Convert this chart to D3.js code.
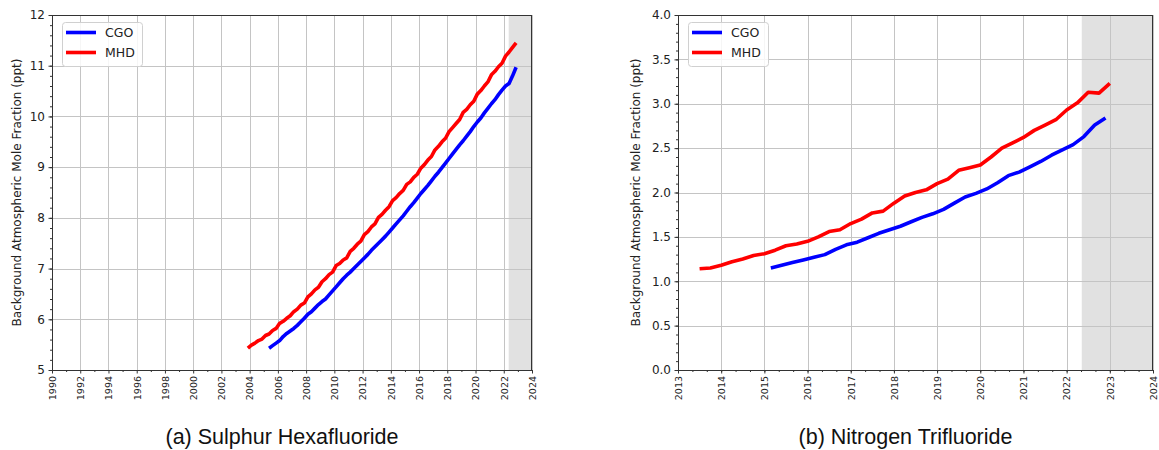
<!DOCTYPE html>
<html><head><meta charset="utf-8">
<script src="https://cdn.jsdelivr.net/npm/d3@7"></script>
<style>body{margin:0;background:#fff} svg{display:block}</style>
</head><body><svg id="c" width="1159" height="450"></svg>
<script>
// ---------- DATA ----------
const seriesNames = ["CGO", "MHD"];
const seriesColors = ["#0000ff", "#ff0000"];

// SF6 (ppt), quarterly values
const sf6MhdStart = 2003.875;
const sf6Mhd = [5.43,5.49,5.53,5.58,5.61,5.68,5.71,5.78,5.82,5.92,5.96,6.02,6.07,6.15,6.20,6.28,6.32,6.44,6.50,6.58,
  6.63,6.74,6.80,6.88,6.93,7.06,7.10,7.17,7.21,7.34,7.40,7.48,7.54,7.67,7.73,7.82,7.88,8.01,8.07,8.15,
  8.22,8.34,8.40,8.48,8.54,8.66,8.71,8.80,8.86,8.98,9.05,9.14,9.21,9.34,9.41,9.50,9.57,9.70,9.78,9.86,
  9.94,10.08,10.14,10.23,10.30,10.44,10.51,10.60,10.68,10.82,10.89,10.98,11.05,11.19,11.27,11.36,11.45];
const sf6CgoStart = 2005.375;
const sf6Cgo = [5.43,5.48,5.53,5.58,5.66,5.72,5.77,5.82,5.88,5.95,6.02,6.10,6.15,6.22,6.29,6.35,6.40,6.48,6.56,6.64,
  6.72,6.80,6.87,6.93,7.00,7.07,7.14,7.21,7.28,7.36,7.43,7.50,7.57,7.64,7.72,7.80,7.88,7.96,8.04,8.13,
  8.22,8.30,8.39,8.48,8.56,8.64,8.73,8.82,8.90,8.99,9.08,9.17,9.26,9.35,9.44,9.52,9.61,9.70,9.80,9.89,
  9.97,10.07,10.16,10.25,10.33,10.43,10.52,10.60,10.65,10.80,10.97];

// NF3 (ppt), quarterly values
const nf3MhdStart = 2013.5;
const nf3Mhd = [1.14,1.15,1.18,1.22,1.25,1.29,1.31,1.35,1.40,1.42,1.45,1.50,1.56,1.58,1.65,1.70,1.77,1.79,1.88,1.96,
  2.00,2.03,2.10,2.15,2.25,2.28,2.31,2.40,2.50,2.56,2.62,2.70,2.76,2.82,2.93,3.01,3.13,3.12,3.23];
const nf3CgoStart = 2015.15;
const nf3Cgo = [1.15,1.18,1.21,1.24,1.27,1.30,1.36,1.41,1.44,1.49,1.54,1.58,1.62,1.67,1.72,1.76,1.81,1.88,1.95,1.99,
  2.04,2.11,2.19,2.23,2.29,2.35,2.42,2.48,2.54,2.63,2.76,2.84];
const quarterStep = 0.25;

// shaded (provisional) period
const shadeStart = 2022.35, shadeEnd = 2024;

// tick labels
const sf6XTicks = [1990,1992,1994,1996,1998,2000,2002,2004,2006,2008,2010,2012,2014,2016,2018,2020,2022,2024];
const sf6YTicks = [5,6,7,8,9,10,11,12];
const sf6YLabels = ["5","6","7","8","9","10","11","12"];
const nf3XTicks = [2013,2014,2015,2016,2017,2018,2019,2020,2021,2022,2023,2024];
const nf3YTicks = [0,0.5,1,1.5,2,2.5,3,3.5,4];
const nf3YLabels = ["0.0","0.5","1.0","1.5","2.0","2.5","3.0","3.5","4.0"];

const yLabel = "Background Atmospheric Mole Fraction (ppt)";
const titles = ["(a) Sulphur Hexafluoride", "(b) Nitrogen Trifluoride"];

// ---------- DRAW ----------
const svg = d3.select("#c");
const toPoints = (start, vals) => vals.map((v, i) => [start + i * quarterStep, v]);

function panel(cfg) {
  const x = d3.scaleLinear().domain(cfg.xDomain).range([cfg.left, cfg.right]);
  const y = d3.scaleLinear().domain(cfg.yDomain).range([cfg.bottom, cfg.top]);
  const g = svg.append("g");

  // shading
  g.append("rect")
    .attr("x", x(shadeStart)).attr("y", cfg.top)
    .attr("width", x(shadeEnd) - x(shadeStart)).attr("height", cfg.bottom - cfg.top)
    .attr("fill", "#e1e1e1");

  // grid
  g.append("g").selectAll("line").data(cfg.xTicks).join("line")
    .attr("x1", d => Math.round(x(d)) + 0.5).attr("x2", d => Math.round(x(d)) + 0.5)
    .attr("y1", cfg.top).attr("y2", cfg.bottom)
    .attr("stroke", "#c4c4c4").attr("stroke-width", 1);
  g.append("g").selectAll("line").data(cfg.yTicks).join("line")
    .attr("y1", d => Math.round(y(d)) + 0.5).attr("y2", d => Math.round(y(d)) + 0.5)
    .attr("x1", cfg.left).attr("x2", cfg.right)
    .attr("stroke", "#c4c4c4").attr("stroke-width", 1);

  // series
  const line = d3.line().x(d => x(d[0])).y(d => y(d[1]));
  cfg.series.forEach((s, i) => {
    g.append("path").datum(s).attr("d", line)
      .attr("fill", "none").attr("stroke", seriesColors[i])
      .attr("stroke-width", 3.6).attr("stroke-linejoin", "round").attr("stroke-linecap", "butt");
  });

  // axes
  const axisColor = "#333";
  const xMajor = d3.axisBottom(x).tickValues(cfg.xTicks).tickSize(3.5).tickPadding(3).tickFormat(d3.format("d"));
  const xMin = d3.axisBottom(x).tickValues(cfg.xMinor).tickSize(2).tickFormat("");
  const yMajor = d3.axisLeft(y).tickValues(cfg.yTicks).tickSize(3.5).tickPadding(3.5).tickFormat((d, i) => cfg.yLabels[i]);
  const yMin = d3.axisLeft(y).tickValues(cfg.yMinor).tickSize(2).tickFormat("");

  const gx = g.append("g").attr("transform", `translate(0,${cfg.bottom})`).call(xMajor);
  g.append("g").attr("transform", `translate(0,${cfg.bottom})`).call(xMin).select(".domain").remove();
  const gy = g.append("g").attr("transform", `translate(${cfg.left},0)`).call(yMajor);
  g.append("g").attr("transform", `translate(${cfg.left},0)`).call(yMin).select(".domain").remove();
  g.selectAll(".domain").remove();
  g.selectAll(".tick line").attr("stroke", axisColor);

  gx.selectAll("text")
    .attr("font-family", "DejaVu Sans").attr("font-size", 9.5).attr("fill", "#222")
    .attr("transform", "rotate(-90)")
    .attr("text-anchor", "end").attr("x", -6).attr("y", 0).attr("dy", "0.35em");
  gy.selectAll("text")
    .attr("font-family", "DejaVu Sans").attr("font-size", 12).attr("fill", "#222");

  // spines
  g.append("rect")
    .attr("x", cfg.left + 0.5).attr("y", cfg.top + 0.5)
    .attr("width", cfg.right - cfg.left - 1).attr("height", cfg.bottom - cfg.top)
    .attr("fill", "none").attr("stroke", axisColor).attr("stroke-width", 1);

  // y label
  g.append("text")
    .attr("transform", `translate(${cfg.yLabelX},${(cfg.top + cfg.bottom) / 2}) rotate(-90)`)
    .attr("text-anchor", "middle").attr("dy", "0.35em")
    .attr("font-family", "DejaVu Sans").attr("font-size", 12).attr("fill", "#222")
    .text(yLabel);

  // title
  g.append("text")
    .attr("x", (cfg.left + cfg.right) / 2 - 10).attr("y", 444)
    .attr("text-anchor", "middle")
    .attr("font-family", "Liberation Sans, Arial, sans-serif").attr("font-size", 21.5).attr("fill", "#111")
    .text(cfg.title);

  // legend
  const lg = g.append("g").attr("transform", `translate(${cfg.left + 10},22)`);
  lg.append("rect").attr("x", 0.5).attr("y", 0.5).attr("width", 80).attr("height", 44).attr("rx", 3)
    .attr("fill", "#fff").attr("fill-opacity", 0.85).attr("stroke", "#d0d0d0");
  seriesNames.forEach((n, i) => {
    const yy = 10.5 + i * 20;
    lg.append("line").attr("x1", 4).attr("x2", 34).attr("y1", yy).attr("y2", yy)
      .attr("stroke", seriesColors[i]).attr("stroke-width", 3.6);
    lg.append("text").attr("x", 43).attr("y", yy).attr("dy", "0.36em")
      .attr("font-family", "DejaVu Sans").attr("font-size", 12.5).attr("fill", "#222").text(n);
  });
}

panel({
  left: 52, right: 532, top: 15, bottom: 370,
  xDomain: [1990, 2024], yDomain: [5, 12],
  xTicks: sf6XTicks, xMinor: d3.range(1991, 2024, 2),
  yTicks: sf6YTicks, yLabels: sf6YLabels, yMinor: d3.range(5, 12.001, 0.2),
  yLabelX: 17, title: titles[0],
  series: [toPoints(sf6CgoStart, sf6Cgo), toPoints(sf6MhdStart, sf6Mhd)]
});
panel({
  left: 678, right: 1153, top: 15, bottom: 370,
  xDomain: [2013, 2024], yDomain: [0, 4],
  xTicks: nf3XTicks, xMinor: d3.range(2013, 2024.001, 1/3),
  yTicks: nf3YTicks, yLabels: nf3YLabels, yMinor: d3.range(0, 4.001, 0.1),
  yLabelX: 636, title: titles[1],
  series: [toPoints(nf3CgoStart, nf3Cgo), toPoints(nf3MhdStart, nf3Mhd)]
});
</script>
</body></html>
